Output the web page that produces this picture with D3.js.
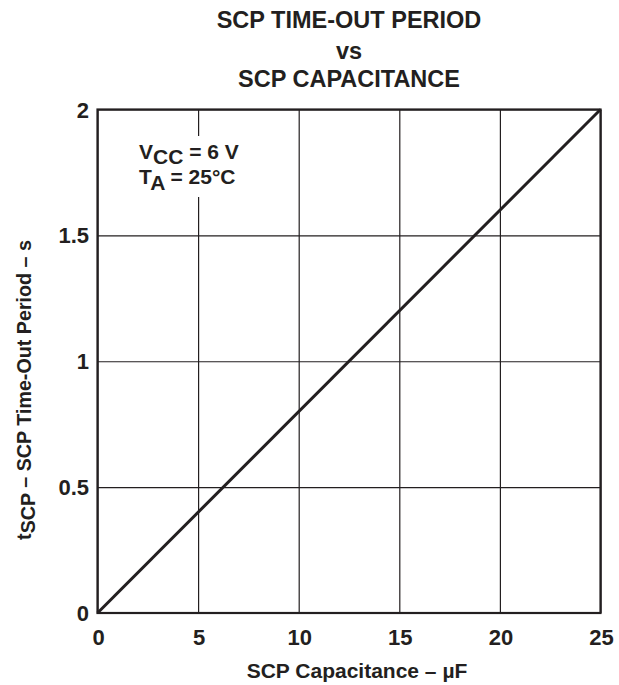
<!DOCTYPE html>
<html>
<head>
<meta charset="utf-8">
<script src="https://cdn.jsdelivr.net/npm/d3@7"></script>
<style>
  body { margin: 0; background: #fff; }
  text { font-family: "Liberation Sans", Arial, sans-serif; font-weight: bold; fill: #231f20; }
</style>
</head>
<body>
<div id="container"></div>
<script>
let w = 619;
let h = 685;

// data
let capacitance = [0, 25];        // uF
let period = [0, 2];              // s
let xTicks = [0, 5, 10, 15, 20, 25];
let yTicks = [0, 0.5, 1, 1.5, 2];
let yTickLabels = ["0", "0.5", "1", "1.5", "2"];
let titleLines = ["SCP TIME-OUT PERIOD", "vs", "SCP CAPACITANCE"];

let margin = {left: 97.5, top: 109.5, right: 18.5, bottom: 72};

let viz = d3.select("#container")
              .append("svg")
                .attr("width", w)
                .attr("height", h)
                .style("background-color", "white");

let x = d3.scaleLinear().domain([0, 25]).range([margin.left, w - margin.right]);
let y = d3.scaleLinear().domain([0, 2]).range([h - margin.bottom, margin.top]);

// grid
viz.append("g")
    .attr("transform", "translate(0," + y(0) + ")")
    .call(d3.axisBottom(x).tickValues(xTicks).tickSize(-(y(0) - y(2))).tickFormat(""))
    .call(g => g.select(".domain").remove())
    .call(g => g.selectAll("line").attr("stroke", "#231f20").attr("stroke-width", 1.2));

viz.append("g")
    .attr("transform", "translate(" + x(0) + ",0)")
    .call(d3.axisLeft(y).tickValues(yTicks).tickSize(-(x(25) - x(0))).tickFormat(""))
    .call(g => g.select(".domain").remove())
    .call(g => g.selectAll("line").attr("stroke", "#231f20").attr("stroke-width", 1.2));

// white box behind the conditions note (grid is broken there)
viz.append("rect")
    .attr("x", 132)
    .attr("y", 136)
    .attr("width", 112)
    .attr("height", 61)
    .attr("fill", "white");

// frame
viz.append("rect")
    .attr("x", x(0))
    .attr("y", y(2))
    .attr("width", x(25) - x(0))
    .attr("height", y(0) - y(2))
    .attr("fill", "none")
    .attr("stroke", "#231f20")
    .attr("stroke-width", 2.2);

// data line
let pts = capacitance.map((c, i) => [c, period[i]]);
viz.append("path")
    .datum(pts)
    .attr("d", d3.line().x(d => x(d[0])).y(d => y(d[1])))
    .attr("fill", "none")
    .attr("stroke", "#231f20")
    .attr("stroke-width", 3);

// tick labels
viz.selectAll(".xlab").data(xTicks).enter()
    .append("text")
      .attr("class", "xlab")
      .attr("x", d => x(d) + 1)
      .attr("y", y(0) + 32)
      .attr("text-anchor", "middle")
      .style("font-size", "22px")
      .text(d => d);

viz.selectAll(".ylab").data(yTicks).enter()
    .append("text")
      .attr("class", "ylab")
      .attr("x", x(0) - 8.5)
      .attr("y", d => y(d) + 8)
      .attr("text-anchor", "end")
      .style("font-size", "22px")
      .text((d, i) => yTickLabels[i]);

// title
let titleY = [28, 59, 87];
viz.selectAll(".title").data(titleLines).enter()
    .append("text")
      .attr("class", "title")
      .attr("x", (x(0) + x(25)) / 2)
      .attr("y", (d, i) => titleY[i])
      .attr("text-anchor", "middle")
      .style("font-size", "23.5px")
      .text(d => d);

// axis titles
viz.append("text")
    .attr("x", (x(0) + x(25)) / 2 + 8)
    .attr("y", 678)
    .attr("text-anchor", "middle")
    .style("font-size", "21px")
    .text("SCP Capacitance – µF");

let yt = viz.append("text")
    .attr("transform", "translate(31,390) rotate(-90)")
    .attr("text-anchor", "middle")
    .style("font-size", "19.7px");
yt.append("tspan").text("t");
yt.append("tspan").attr("dy", 4).text("SCP");
yt.append("tspan").attr("dy", -4).text(" – SCP Time-Out Period – s");

// conditions
let a1 = viz.append("text").attr("x", 139).attr("y", 158.5).style("font-size", "21px");
a1.append("tspan").text("V");
a1.append("tspan").attr("dy", 5).text("CC");
a1.append("tspan").attr("dy", -5).text(" = 6 V");

let a2 = viz.append("text").attr("x", 139).attr("y", 184).style("font-size", "21px");
a2.append("tspan").text("T");
a2.append("tspan").attr("dy", 6).text("A");
a2.append("tspan").attr("dy", -6).text(" = 25°C");
</script>
</body>
</html>
